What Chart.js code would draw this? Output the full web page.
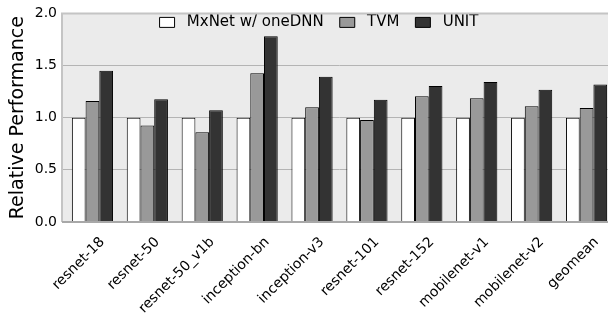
<!DOCTYPE html>
<html>
<head>
<meta charset="utf-8">
<script src="https://cdn.jsdelivr.net/npm/chart.js@4"></script>
<style>
  html, body { margin: 0; padding: 0; background: #fff; overflow: hidden; }
  #wrap { width: 614px; height: 316px; }
</style>
</head>
<body>
<div id="wrap"><canvas id="chart" width="614" height="316"></canvas></div>
<script>
const models = ["resnet-18", "resnet-50", "resnet-50_v1b", "inception-bn", "inception-v3",
                "resnet-101", "resnet-152", "mobilenet-v1", "mobilenet-v2", "geomean"];
const mxnet = [1.0, 1.0, 1.0, 1.0, 1.0, 1.0, 1.0, 1.0, 1.0, 1.0];
const tvm = [1.16, 0.925, 0.86, 1.425, 1.10, 0.978, 1.205, 1.186, 1.11, 1.094];
const unit = [1.45, 1.176, 1.072, 1.78, 1.393, 1.173, 1.305, 1.343, 1.267, 1.318];
const yTicks = [0.0, 0.5, 1.0, 1.5, 2.0];

const FONT = "'DejaVu Sans', sans-serif";

// axes background, spines, and a legend that sits inside the plot
const frame = {
  id: "frame",
  beforeLayout(chart) {
    const lg = chart.legend;
    if (!lg || lg._wrapped) return;
    const fit = lg.fit.bind(lg);
    lg.fit = function () { fit(); this.height = 0; };
    lg._wrapped = true;
  },
  afterLayout(chart) {
    const lg = chart.legend;
    const a = chart.chartArea;
    if (!lg) return;
    const w = lg.right - lg.left;
    lg.left = 319 - w / 2;
    lg.right = lg.left + w;
    lg.top = a.top - 14.5;
    lg.bottom = lg.top + 40;
  },
  beforeDraw(chart) {
    const { ctx, chartArea: a } = chart;
    ctx.save();
    ctx.fillStyle = "#ebebeb";
    ctx.fillRect(a.left - 3, a.top, a.right - a.left + 3, a.bottom - a.top);
    ctx.restore();
  },
  afterDatasetsDraw(chart) {
    const { ctx, chartArea: a } = chart;
    ctx.save();
    ctx.strokeStyle = "#c4c4c4";
    ctx.lineWidth = 2;
    ctx.beginPath();
    ctx.moveTo(a.left - 3, a.bottom);
    ctx.lineTo(a.left - 3, a.top);
    ctx.lineTo(a.right, a.top);
    ctx.stroke();
    ctx.strokeStyle = "#a8a8a8";
    ctx.beginPath();
    ctx.moveTo(a.left - 3, a.bottom);
    ctx.lineTo(a.right, a.bottom);
    ctx.stroke();
    ctx.restore();
  }
};

new Chart(document.getElementById("chart"), {
  type: "bar",
  data: {
    labels: models,
    datasets: [
      { label: " MxNet w/ oneDNN", data: mxnet, backgroundColor: "#ffffff", borderColor: "#000", borderWidth: 1 },
      { label: " TVM", data: tvm, backgroundColor: "#999999", borderColor: "#000", borderWidth: 1 },
      { label: " UNIT", data: unit, backgroundColor: "#333333", borderColor: "#000", borderWidth: 1 }
    ]
  },
  options: {
    responsive: false,
    animation: false,
    layout: { padding: { top: 10, right: 0, left: 0, bottom: 0 } },
    datasets: { bar: { categoryPercentage: 0.75, barPercentage: 1.0 } },
    plugins: {
      tooltip: { enabled: false },
      legend: {
        position: "top",
        align: "center",
        labels: {
          boxWidth: 15,
          boxHeight: 10,
          padding: 16,
          color: "#000",
          font: { family: FONT, size: 15 }
        }
      }
    },
    scales: {
      x: {
        grid: { display: false },
        border: { display: false },
        ticks: {
          color: "#000",
          font: { family: FONT, size: 14 },
          minRotation: 45,
          maxRotation: 45,
          padding: 4,
          labelOffset: 10
        },
        afterFit(s) { s.height = 94; }
      },
      y: {
        min: 0,
        max: 2,
        afterBuildTicks(s) { s.ticks = yTicks.map(v => ({ value: v })); },
        border: { display: false },
        grid: {
          color: c => (c.tick.value > 0 && c.tick.value < 2) ? "#b4b4b4" : "rgba(0,0,0,0)",
          tickColor: c => (c.tick.value > 0 && c.tick.value < 2) ? "#b4b4b4" : "rgba(0,0,0,0)",
          tickLength: 3,
          lineWidth: 1,
          borderDash: [3, 2]
        },
        ticks: {
          color: "#000",
          font: { family: FONT, size: 14 },
          padding: 5,
          callback: v => v.toFixed(1)
        },
        title: {
          display: true,
          text: "Relative Performance",
          color: "#000",
          font: { family: FONT, size: 19 },
          padding: { top: 7, bottom: 0 }
        },
        afterFit(s) { s.width = 65; }
      }
    }
  },
  plugins: [frame]
});
</script>
</body>
</html>
